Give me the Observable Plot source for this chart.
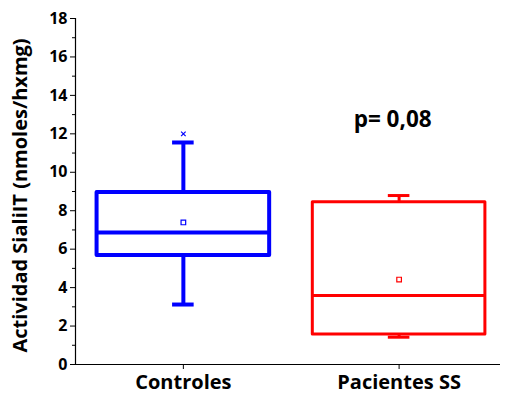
<!DOCTYPE html>
<html>
<head>
<meta charset="utf-8">
<script src="https://cdn.jsdelivr.net/npm/d3@7"></script>
<script src="https://cdn.jsdelivr.net/npm/@observablehq/plot@0.6"></script>
<style>
  html, body { margin: 0; padding: 0; background: #fff; }
  #chart svg { display: block; }
</style>
</head>
<body>
<div id="chart"></div>
<script>
// Data
const categories = ["Controles", "Pacientes SS"];
const colors = ["#0000ff", "#ff0000"];
const whiskerLow = [3.12, 1.42];
const q1 = [5.67, 1.56];
const median = [6.87, 3.59];
const q3 = [8.95, 8.44];
const whiskerHigh = [11.55, 8.79];
const mean = [7.39, 4.42];
const outliers = [{group: 1, value: 12.0}];
const yTicks = [0, 2, 4, 6, 8, 10, 12, 14, 16, 18];
const yMinorTicks = [1, 3, 5, 7, 9, 11, 13, 15, 17];
const yLabel = "Actividad SialiIT (nmoles/hxmg)";
const pText = "p= 0,08";

const boxes = categories.map((c, i) => ({
  pos: i + 1, name: c, color: colors[i],
  lo: whiskerLow[i], q1: q1[i], med: median[i], q3: q3[i], hi: whiskerHigh[i], mean: mean[i],
  sw: i === 0 ? 4 : 3
}));

const halfBox = 0.4, halfCap = 0.05;
const font = "'Open Sans', Lato, sans-serif";

const plot = Plot.plot({
  width: 505,
  height: 398,
  marginLeft: 75,
  marginRight: 5,
  marginTop: 18,
  marginBottom: 34,
  style: {fontFamily: font, fontWeight: "bold", color: "#000", background: "#fff"},
  x: {type: "linear", domain: [0.5, 2.47]},
  y: {domain: [0, 18]},
  marks: [
    // whiskers
    Plot.ruleX(boxes, {x: "pos", y1: "lo", y2: "q1", stroke: "color", strokeWidth: "sw"}),
    Plot.ruleX(boxes, {x: "pos", y1: "q3", y2: "hi", stroke: "color", strokeWidth: "sw"}),
    Plot.ruleY(boxes, {y: "lo", x1: d => d.pos - halfCap, x2: d => d.pos + halfCap, stroke: "color", strokeWidth: "sw"}),
    Plot.ruleY(boxes, {y: "hi", x1: d => d.pos - halfCap, x2: d => d.pos + halfCap, stroke: "color", strokeWidth: "sw"}),
    // boxes
    Plot.rect(boxes, {x1: d => d.pos - halfBox, x2: d => d.pos + halfBox, y1: "q1", y2: "q3", fill: "white", stroke: "color", strokeWidth: "sw", strokeLinejoin: "round"}),
    Plot.ruleY(boxes, {y: "med", x1: d => d.pos - halfBox, x2: d => d.pos + halfBox, stroke: "color", strokeWidth: "sw"}),
    // means
    Plot.dot(boxes, {x: "pos", y: "mean", symbol: "square", r: 2.6, fill: "white", stroke: "color", strokeWidth: 1.2}),
    // outliers
    Plot.dot(outliers, {x: "group", y: "value", symbol: "times", r: 2.2, stroke: d => colors[d.group - 1], strokeWidth: 1.2}),
    // axes
    Plot.axisY({ticks: yTicks, tickSize: 5, tickPadding: 3, fontSize: 16, fontWeight: "bold", label: null}),
    Plot.axisY({ticks: yMinorTicks, tickSize: 3, tickFormat: () => "", label: null}),
    Plot.axisX({ticks: [1, 2], tickSize: 5, tickPadding: 5, tickFormat: d => categories[d - 1], fontSize: 20, fontWeight: "bold", label: null}),
    Plot.ruleX([0.5], {y1: 0, y2: 18, stroke: "#000", strokeWidth: 1.2}),
    Plot.ruleY([0], {stroke: "#000", strokeWidth: 1.2}),
    // y title
    Plot.text([yLabel], {frameAnchor: "left", dx: -55, dy: 4, rotate: -90, textAnchor: "middle", fontSize: 20, fontWeight: "bold", fill: "#000"}),
    // p value
    Plot.text([pText], {x: 1.97, y: 12.75, fontSize: 22.5, fontWeight: "bold", fill: "#000"})
  ]
});
document.getElementById("chart").appendChild(plot);
</script>
</body>
</html>
